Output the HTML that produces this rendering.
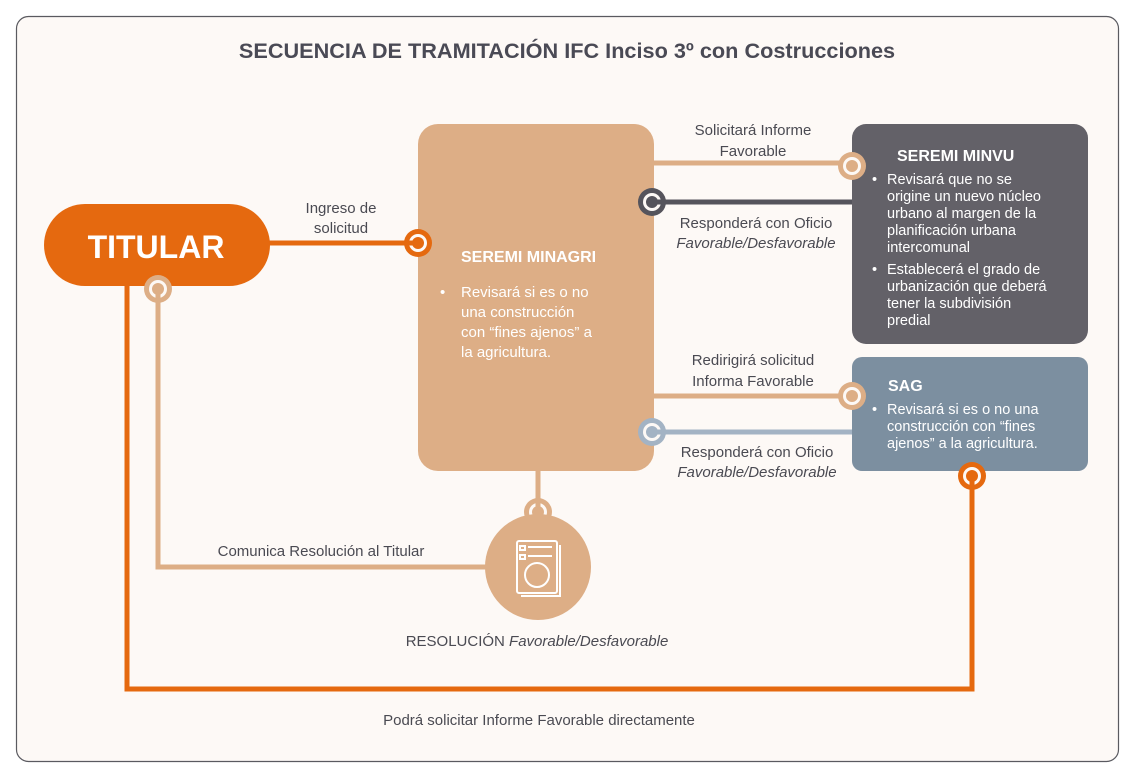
<!DOCTYPE html>
<html><head><meta charset="utf-8"><style>
html,body{margin:0;padding:0;background:#fff;}
svg{display:block}
text{font-family:"Liberation Sans",sans-serif;}
</style></head><body>
<svg width="1135" height="780" viewBox="0 0 1135 780" xmlns="http://www.w3.org/2000/svg">
<rect x="16.5" y="16.5" width="1102" height="745" rx="12" fill="#fdf9f6" stroke="#5a5a60" stroke-width="1.2"/>
<text x="567" y="58" text-anchor="middle" font-size="21.7" font-weight="bold" fill="#4a4a55">SECUENCIA DE TRAMITACIÓN IFC Inciso 3º con Costrucciones</text>

<g fill="none" stroke-width="5">
<polyline points="972,476 972,689 127,689 127,280" stroke="#e5690f"/>
<polyline points="158,289 158,567 500,567" stroke="#ddae86"/>
<line x1="265" y1="243" x2="418" y2="243" stroke="#e5690f"/>
<line x1="538" y1="465" x2="538" y2="512" stroke="#ddae86"/>
<line x1="650" y1="163" x2="852" y2="163" stroke="#ddae86"/>
<line x1="652" y1="202" x2="856" y2="202" stroke="#55545c"/>
<line x1="650" y1="396" x2="852" y2="396" stroke="#ddae86"/>
<line x1="652" y1="432" x2="856" y2="432" stroke="#a3b3c4"/>
</g>

<rect x="44" y="204" width="226" height="82" rx="41" fill="#e5690f"/>
<text x="156" y="258" text-anchor="middle" font-size="32" font-weight="bold" fill="#fff">TITULAR</text>
<rect x="418" y="124" width="236" height="347" rx="20" fill="#ddae86"/>
<rect x="852" y="124" width="236" height="220" rx="14" fill="#636168"/>
<rect x="852" y="357" width="236" height="114" rx="10" fill="#7c8fa0"/>

<g>
<circle cx="418" cy="243" r="14" fill="#e5690f"/><circle cx="418" cy="243" r="9" fill="#fdf9f6"/><circle cx="418" cy="243" r="6" fill="#e5690f"/><rect x="400" y="240.5" width="18" height="5" fill="#e5690f"/>
<circle cx="158" cy="289" r="14" fill="#ddae86"/><circle cx="158" cy="289" r="9" fill="#fdf9f6"/><circle cx="158" cy="289" r="6" fill="#ddae86"/><rect x="155.5" y="289" width="5" height="18" fill="#ddae86"/>
<circle cx="538" cy="512" r="14" fill="#ddae86"/><circle cx="538" cy="512" r="9" fill="#fdf9f6"/><circle cx="538" cy="512" r="6" fill="#ddae86"/><rect x="535.5" y="494" width="5" height="18" fill="#ddae86"/>
<circle cx="852" cy="166" r="14" fill="#ddae86"/><circle cx="852" cy="166" r="9" fill="#fdf9f6"/><circle cx="852" cy="166" r="6" fill="#ddae86"/>
<circle cx="652" cy="202" r="14" fill="#55545c"/><circle cx="652" cy="202" r="9" fill="#fdf9f6"/><circle cx="652" cy="202" r="6" fill="#55545c"/><rect x="652" y="199.5" width="18" height="5" fill="#55545c"/>
<circle cx="852" cy="396" r="14" fill="#ddae86"/><circle cx="852" cy="396" r="9" fill="#fdf9f6"/><circle cx="852" cy="396" r="6" fill="#ddae86"/>
<circle cx="652" cy="432" r="14" fill="#a3b3c4"/><circle cx="652" cy="432" r="9" fill="#fdf9f6"/><circle cx="652" cy="432" r="6" fill="#a3b3c4"/><rect x="652" y="429.5" width="18" height="5" fill="#a3b3c4"/>
<circle cx="972" cy="476" r="14" fill="#e5690f"/><circle cx="972" cy="476" r="9" fill="#fdf9f6"/><circle cx="972" cy="476" r="6" fill="#e5690f"/><rect x="969.5" y="476" width="5" height="18" fill="#e5690f"/>
</g>

<circle cx="538" cy="567" r="53" fill="#ddae86"/>
<g fill="none" stroke="#fff" stroke-width="2">
<rect x="517" y="541" width="40" height="52" rx="2"/>
<path d="M521 596 H560 V545"/>
<rect x="520" y="546" width="5" height="4"/><line x1="528" y1="547" x2="552" y2="547"/>
<rect x="520" y="555" width="5" height="4"/><line x1="528" y1="556" x2="552" y2="556"/>
<circle cx="537" cy="575" r="12"/>
</g>

<g font-size="15" fill="#4a4a52" text-anchor="middle">
<text x="341" y="213">Ingreso de</text><text x="341" y="233">solicitud</text>
<text x="753" y="135">Solicitará Informe</text><text x="753" y="156">Favorable</text>
<text x="756" y="228">Responderá con Oficio</text><text x="756" y="248" font-style="italic">Favorable/Desfavorable</text>
<text x="753" y="365">Redirigirá solicitud</text><text x="753" y="386">Informa Favorable</text>
<text x="757" y="457">Responderá con Oficio</text><text x="757" y="477" font-style="italic">Favorable/Desfavorable</text>
<text x="321" y="556">Comunica Resolución al Titular</text>
<text x="537" y="646">RESOLUCIÓN <tspan font-style="italic">Favorable/Desfavorable</tspan></text>
<text x="539" y="725">Podrá solicitar Informe Favorable directamente</text>
</g>

<g fill="#fff" font-size="15">
<text x="461" y="262" font-size="16" font-weight="bold">SEREMI MINAGRI</text>
<text x="440" y="297">•</text>
<text x="461" y="297">Revisará si es o no</text>
<text x="461" y="317">una construcción</text>
<text x="461" y="337">con “fines ajenos” a</text>
<text x="461" y="357">la agricultura.</text>

<text x="897" y="161" font-size="16" font-weight="bold">SEREMI MINVU</text>
<g font-size="14.5">
<text x="872" y="184">•</text>
<text x="887" y="184">Revisará que no se</text>
<text x="887" y="201">origine un nuevo núcleo</text>
<text x="887" y="218">urbano al margen de la</text>
<text x="887" y="235">planificación urbana</text>
<text x="887" y="252">intercomunal</text>
<text x="872" y="274">•</text>
<text x="887" y="274">Establecerá el grado de</text>
<text x="887" y="291">urbanización que deberá</text>
<text x="887" y="308">tener la subdivisión</text>
<text x="887" y="325">predial</text>
</g>
<text x="888" y="391" font-size="16" font-weight="bold">SAG</text>
<g font-size="14.5">
<text x="872" y="414">•</text>
<text x="887" y="414">Revisará si es o no una</text>
<text x="887" y="431">construcción con “fines</text>
<text x="887" y="448">ajenos” a la agricultura.</text>
</g>
</g>
</svg>
</body></html>
